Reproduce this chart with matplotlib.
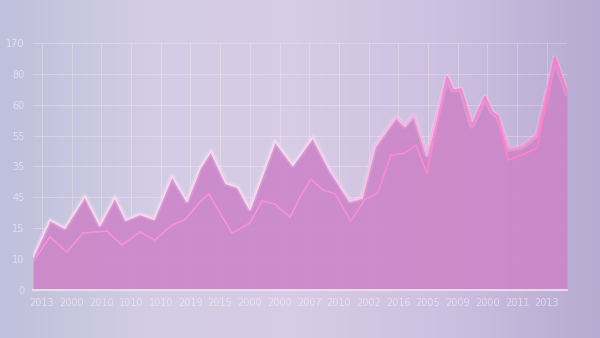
import numpy as np
import matplotlib.pyplot as plt
from matplotlib.collections import LineCollection
from matplotlib.colors import LinearSegmentedColormap

# 数据（从图中读取，x 为标签序号位置）
x_labels = ['2013', '2000', '2010', '1010', '1010', '2019', '2015', '2000', '2000',
            '2007', '2010', '2002', '2016', '2005', '2009', '2000', '2011', '2013']
y_labels = ['0', '10', '15', '45', '35', '55', '60', '80', '170']

upper_x = [-0.30, 0.27, 0.77, 1.45, 1.95, 2.46, 2.83, 3.30, 3.77, 4.38, 4.88, 5.32,
           5.69, 6.20, 6.60, 7.00, 7.85, 8.45, 9.12, 9.70, 10.37, 10.77, 11.21,
           11.92, 12.22, 12.53, 12.96, 13.64, 13.84, 14.11, 14.48, 14.92, 15.15,
           15.35, 15.72, 16.16, 16.67, 17.27, 17.68]
upper_y = [1.07, 2.27, 2.01, 3.04, 2.10, 3.01, 2.27, 2.46, 2.30, 3.69, 2.88, 3.95,
           4.50, 3.46, 3.33, 2.62, 4.82, 4.05, 4.95, 3.88, 2.88, 2.98, 4.63,
           5.60, 5.31, 5.66, 4.37, 6.89, 6.47, 6.50, 5.31, 6.25, 5.76,
           5.63, 4.56, 4.63, 5.02, 7.51, 6.38]

lower_x = [-0.30, 0.27, 0.84, 1.38, 2.19, 2.69, 3.30, 3.80, 4.38, 4.81, 5.32, 5.62,
           6.40, 7.00, 7.41, 7.85, 8.35, 8.69, 9.06, 9.46, 9.87, 10.40, 10.88,
           11.31, 11.75, 12.22, 12.59, 12.96, 13.64, 13.84, 14.11, 14.48, 14.92,
           15.15, 15.35, 15.69, 16.16, 16.67, 17.27, 17.68]
lower_y = [0.91, 1.72, 1.23, 1.84, 1.91, 1.46, 1.88, 1.62, 2.10, 2.27, 2.85, 3.11,
           1.84, 2.17, 2.88, 2.78, 2.36, 3.01, 3.59, 3.24, 3.11, 2.23, 2.94,
           3.14, 4.37, 4.43, 4.69, 3.79, 6.89, 6.47, 6.50, 5.31, 6.25,
           5.76, 5.63, 4.21, 4.37, 4.60, 7.51, 6.38]


def gradient_line(ax, x, y, c_start, c_end, lw, alpha=1.0):
    """沿 x 方向颜色渐变的折线"""
    pts = np.array([x, y]).T.reshape(-1, 1, 2)
    segs = np.concatenate([pts[:-1], pts[1:]], axis=1)
    cmap = LinearSegmentedColormap.from_list('g', [c_start, c_start, c_end])
    lc = LineCollection(segs, cmap=cmap, linewidths=lw, alpha=alpha,
                        capstyle='round', joinstyle='round', zorder=4)
    lc.set_array(np.asarray(x[:-1]))
    ax.add_collection(lc)


fig = plt.figure(figsize=(6, 3.38), dpi=100)

# 背景渐变
bg = fig.add_axes([0, 0, 1, 1])
grad = np.linspace(0, 1, 256)
bg_cmap = LinearSegmentedColormap.from_list(
    'bg', ['#bfc0dc', '#d3cde4', '#d8cbe6', '#cdbfe0', '#b7abd2'])
bg.imshow(grad[None, :], aspect='auto', cmap=bg_cmap, extent=[0, 1, 0, 1])
bg.axis('off')

ax = fig.add_axes([0.055, 0.142, 0.89, 0.731])
ax.patch.set_alpha(0)

ax.fill_between(upper_x, upper_y, 0, color='#cc86c8', alpha=0.92, lw=0, zorder=2)

# 光晕
ax.plot(upper_x, upper_y, color='#ffffff', lw=4, alpha=0.15, zorder=3)
gradient_line(ax, upper_x, upper_y, '#f7d6f0', '#ff86cf', 1.5)
gradient_line(ax, lower_x, lower_y, '#f590dc', '#ff7cc8', 1.3)

ax.set_xlim(-0.3, 17.68)
ax.set_ylim(0, 8)
ax.set_xticks(range(len(x_labels)))
ax.set_xticklabels(x_labels)
ax.set_yticks(range(len(y_labels)))
ax.set_yticklabels(y_labels)
ax.tick_params(length=0, labelsize=7, colors='#f4eef8', pad=6)
for lab in ax.get_xticklabels() + ax.get_yticklabels():
    lab.set_alpha(0.65)
ax.grid(True, color='white', alpha=0.25, lw=0.7, zorder=1)
for s in ['top', 'right', 'left']:
    ax.spines[s].set_visible(False)
ax.spines['bottom'].set_color('#f4e6f4')
ax.spines['bottom'].set_linewidth(1.2)

plt.savefig('out.png', dpi=100)
